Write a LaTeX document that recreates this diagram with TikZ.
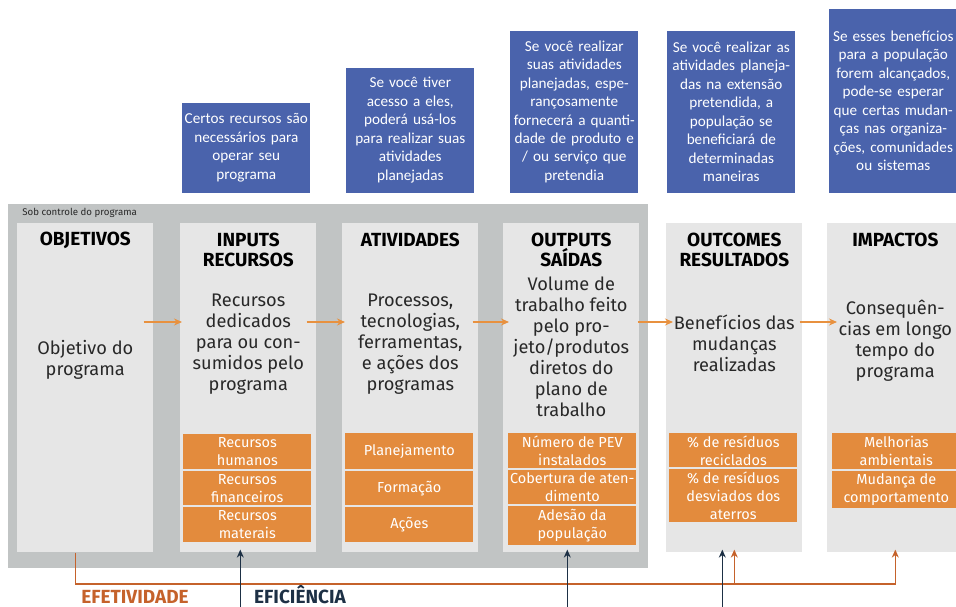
\documentclass[tikz,border=0pt]{standalone}
\usepackage{fontspec}
\setmainfont{Fira Sans}
\newfontfamily\caixafont{Carlito}
\usetikzlibrary{shapes,arrows,arrows.meta,positioning,calc}
\definecolor{cinzactrl}{RGB}{193,196,196}
\definecolor{colcinza}{RGB}{230,230,230}
\definecolor{azul}{RGB}{74,99,172}
\definecolor{laranja}{RGB}{227,139,61}
\definecolor{setacor}{RGB}{232,145,63}
\definecolor{efetcor}{RGB}{197,98,43}
\definecolor{eficcor}{RGB}{29,48,69}
\definecolor{txtcor}{RGB}{40,40,40}

\begin{document}
\begin{tikzpicture}[x=1pt,y=-1pt,>={Stealth[length=8pt,width=7pt]},semithick]
\tikzstyle{coluna}=[fill=colcinza, inner sep=0, minimum width=136pt, minimum height=329pt, anchor=north west]
\tikzstyle{pergunta}=[fill=azul, text=white, inner sep=0, text width=128pt, align=center, anchor=south west, font=\caixafont\fontsize{15.2}{18.5}\selectfont]
\tikzstyle{titulo}=[text=black, align=center, inner sep=0, font=\bfseries\fontsize{19}{20.5}\selectfont]
\tikzstyle{corpo}=[text=txtcor, align=center, inner sep=0, font=\fontsize{18.2}{21}\selectfont]
\tikzstyle{item}=[fill=laranja, text=white, align=center, inner sep=0, minimum width=128pt, anchor=north west, font=\fontsize{14.5}{18}\selectfont]
\tikzstyle{passo}=[->, draw=setacor, line width=1.4pt]
\tikzstyle{linhaefet}=[->, draw=efetcor, line width=1.4pt, shorten >=-3pt]
\tikzstyle{linhaefic}=[->, draw=eficcor, line width=1.4pt, shorten >=-3pt]
\tikzstyle{rotulo}=[inner sep=0, anchor=base, font=\bfseries\fontsize{19}{21}\selectfont]
\useasboundingbox (0,0) rectangle (956,607);

% area sob controle do programa
\node[fill=cinzactrl, inner sep=0, minimum width=640pt, minimum height=364pt, anchor=north west] (controle) at (8,204) {};
\node[inner sep=0, anchor=west, text=txtcor, font=\fontsize{9.7}{11}\selectfont] (ctrltxt) at (22,213) {Sob controle do programa};

% colunas
\node[coluna] (obj) at (17,223) {};
\node[coluna] (inp) at (180,223) {};
\node[coluna] (ativ) at (342,223) {};
\node[coluna] (outp) at (503,223) {};
\node[coluna] (outc) at (666,223) {};
\node[coluna] (imp) at (827,223) {};

\node[titulo] (objtit) at ([yshift=-17pt]obj.north) {OBJETIVOS};
\node[titulo] (inptit) at ([yshift=-27pt]inp.north) {INPUTS\\RECURSOS};
\node[titulo] (ativtit) at ([yshift=-17pt]ativ.north) {ATIVIDADES};
\node[titulo] (outptit) at ([yshift=-27pt]outp.north) {OUTPUTS\\SAÍDAS};
\node[titulo] (outctit) at ([yshift=-27pt]outc.north) {OUTCOMES\\RESULTADOS};
\node[titulo] (imptit) at ([yshift=-17pt]imp.north) {IMPACTOS};

\node[corpo] (objtxt) at ([yshift=-137pt]obj.north) {Objetivo do\\programa};
\node[corpo] (inptxt) at ([yshift=-121pt]inp.north) {Recursos\\dedicados\\para ou con-\\sumidos pelo\\programa};
\node[corpo] (ativtxt) at ([yshift=-121pt]ativ.north) {Processos,\\tecnologias,\\ferramentas,\\e ações dos\\programas};
\node[corpo] (outptxt) at ([yshift=-124pt]outp.north) {Volume de\\trabalho feito\\pelo pro-\\jeto/produtos\\diretos do\\plano de\\trabalho};
\node[corpo] (outctxt) at ([yshift=-120pt]outc.north) {Benefícios das\\mudanças\\realizadas};
\node[corpo] (imptxt) at ([yshift=-118pt]imp.north) {Consequên-\\cias em longo\\tempo do\\programa};

% itens em laranja
\node[item, minimum height=35pt] (inp1) at (183,434) {Recursos\\humanos};
\node[item, minimum height=34pt] (inp2) at (183,471) {Recursos\\financeiros};
\node[item, minimum height=35pt] (inp3) at (183,507) {Recursos\\materais};
\node[item, minimum height=36pt] (ativ1) at (345,433) {Planejamento};
\node[item, minimum height=34pt] (ativ2) at (345,471) {Formação};
\node[item, minimum height=35pt] (ativ3) at (345,507) {Ações};
\node[item, minimum height=35pt] (outp1) at (508,433) {Número de PEV\\instalados};
\node[item, minimum height=34pt] (outp2) at (508,470) {Cobertura de aten-\\dimento};
\node[item, minimum height=39pt] (outp3) at (508,506) {Adesão da\\população};
\node[item, minimum height=34pt] (outc1) at (669,433) {\% de resíduos\\reciclados};
\node[item, minimum height=53pt] (outc2) at (669,469) {\% de resíduos\\desviados dos\\aterros};
\node[item, minimum height=36pt] (imp1) at (832,433) {Melhorias\\ambientais};
\node[item, minimum height=37pt] (imp2) at (832,471) {Mudança de\\comportamento};

% perguntas
\node[pergunta, minimum height=90pt] (pinp) at (182,193) {Certos recursos são\\necessários para\\operar seu\\programa};
\node[pergunta, minimum height=125pt] (pativ) at (346,193) {Se você tiver\\acesso a eles,\\poderá usá-los\\para realizar suas\\atividades\\planejadas};
\node[pergunta, minimum height=162pt] (poutp) at (510,193) {Se você realizar\\suas atividades\\planejadas, espe-\\rançosamente\\fornecerá a quanti-\\dade de produto e\\/ ou serviço que\\pretendia};
\node[pergunta, minimum height=162pt] (poutc) at (667,193) {Se você realizar as\\atividades planeja-\\das na extensão\\pretendida, a\\população se\\beneficiará de\\determinadas\\maneiras};
\node[pergunta, minimum height=184pt] (pimp) at (829,193) {Se esses benefícios\\para a população\\forem alcançados,\\pode-se esperar\\que certas mudan-\\ças nas organiza-\\ções, comunidades\\ou sistemas};

% setas entre colunas
\coordinate (nivel) at (0,322);
\draw[passo] ([xshift=-10pt]obj.east |- nivel) -- ([xshift=2pt]inp.west |- nivel);
\draw[passo] ([xshift=-10pt]inp.east |- nivel) -- ([xshift=3pt]ativ.west |- nivel);
\draw[passo] ([xshift=-6pt]ativ.east |- nivel) -- ([xshift=6pt]outp.west |- nivel);
\draw[passo] ([xshift=-2pt]outp.east |- nivel) -- ([xshift=7pt]outc.west |- nivel);
\draw[passo] ([xshift=-3pt]outc.east |- nivel) -- ([xshift=10pt]imp.west |- nivel);

% efetividade e eficiencia
\coordinate (linha) at (0,584);
\coordinate (fundo) at (0,612);
\draw[linhaefet] ([xshift=-10pt]obj.south) |- (linha -| imp.south) -- (imp.south);
\draw[linhaefet] (linha -| outc.south) -- (outc.south);
\draw[linhaefic] ($(fundo -| inp.south)+(-8,0)$) -- ([xshift=-8pt]inp.south);
\draw[linhaefic] ($(fundo -| outp.south)+(-4,0)$) -- ([xshift=-4pt]outp.south);
\draw[linhaefic] ($(fundo -| outc.south)+(-12,0)$) -- ([xshift=-12pt]outc.south);
\node[rotulo, text=efetcor] (efet) at (135,603) {EFETIVIDADE};
\node[rotulo, text=eficcor] (efic) at (300,603) {EFICIÊNCIA};
\end{tikzpicture}
\end{document}
